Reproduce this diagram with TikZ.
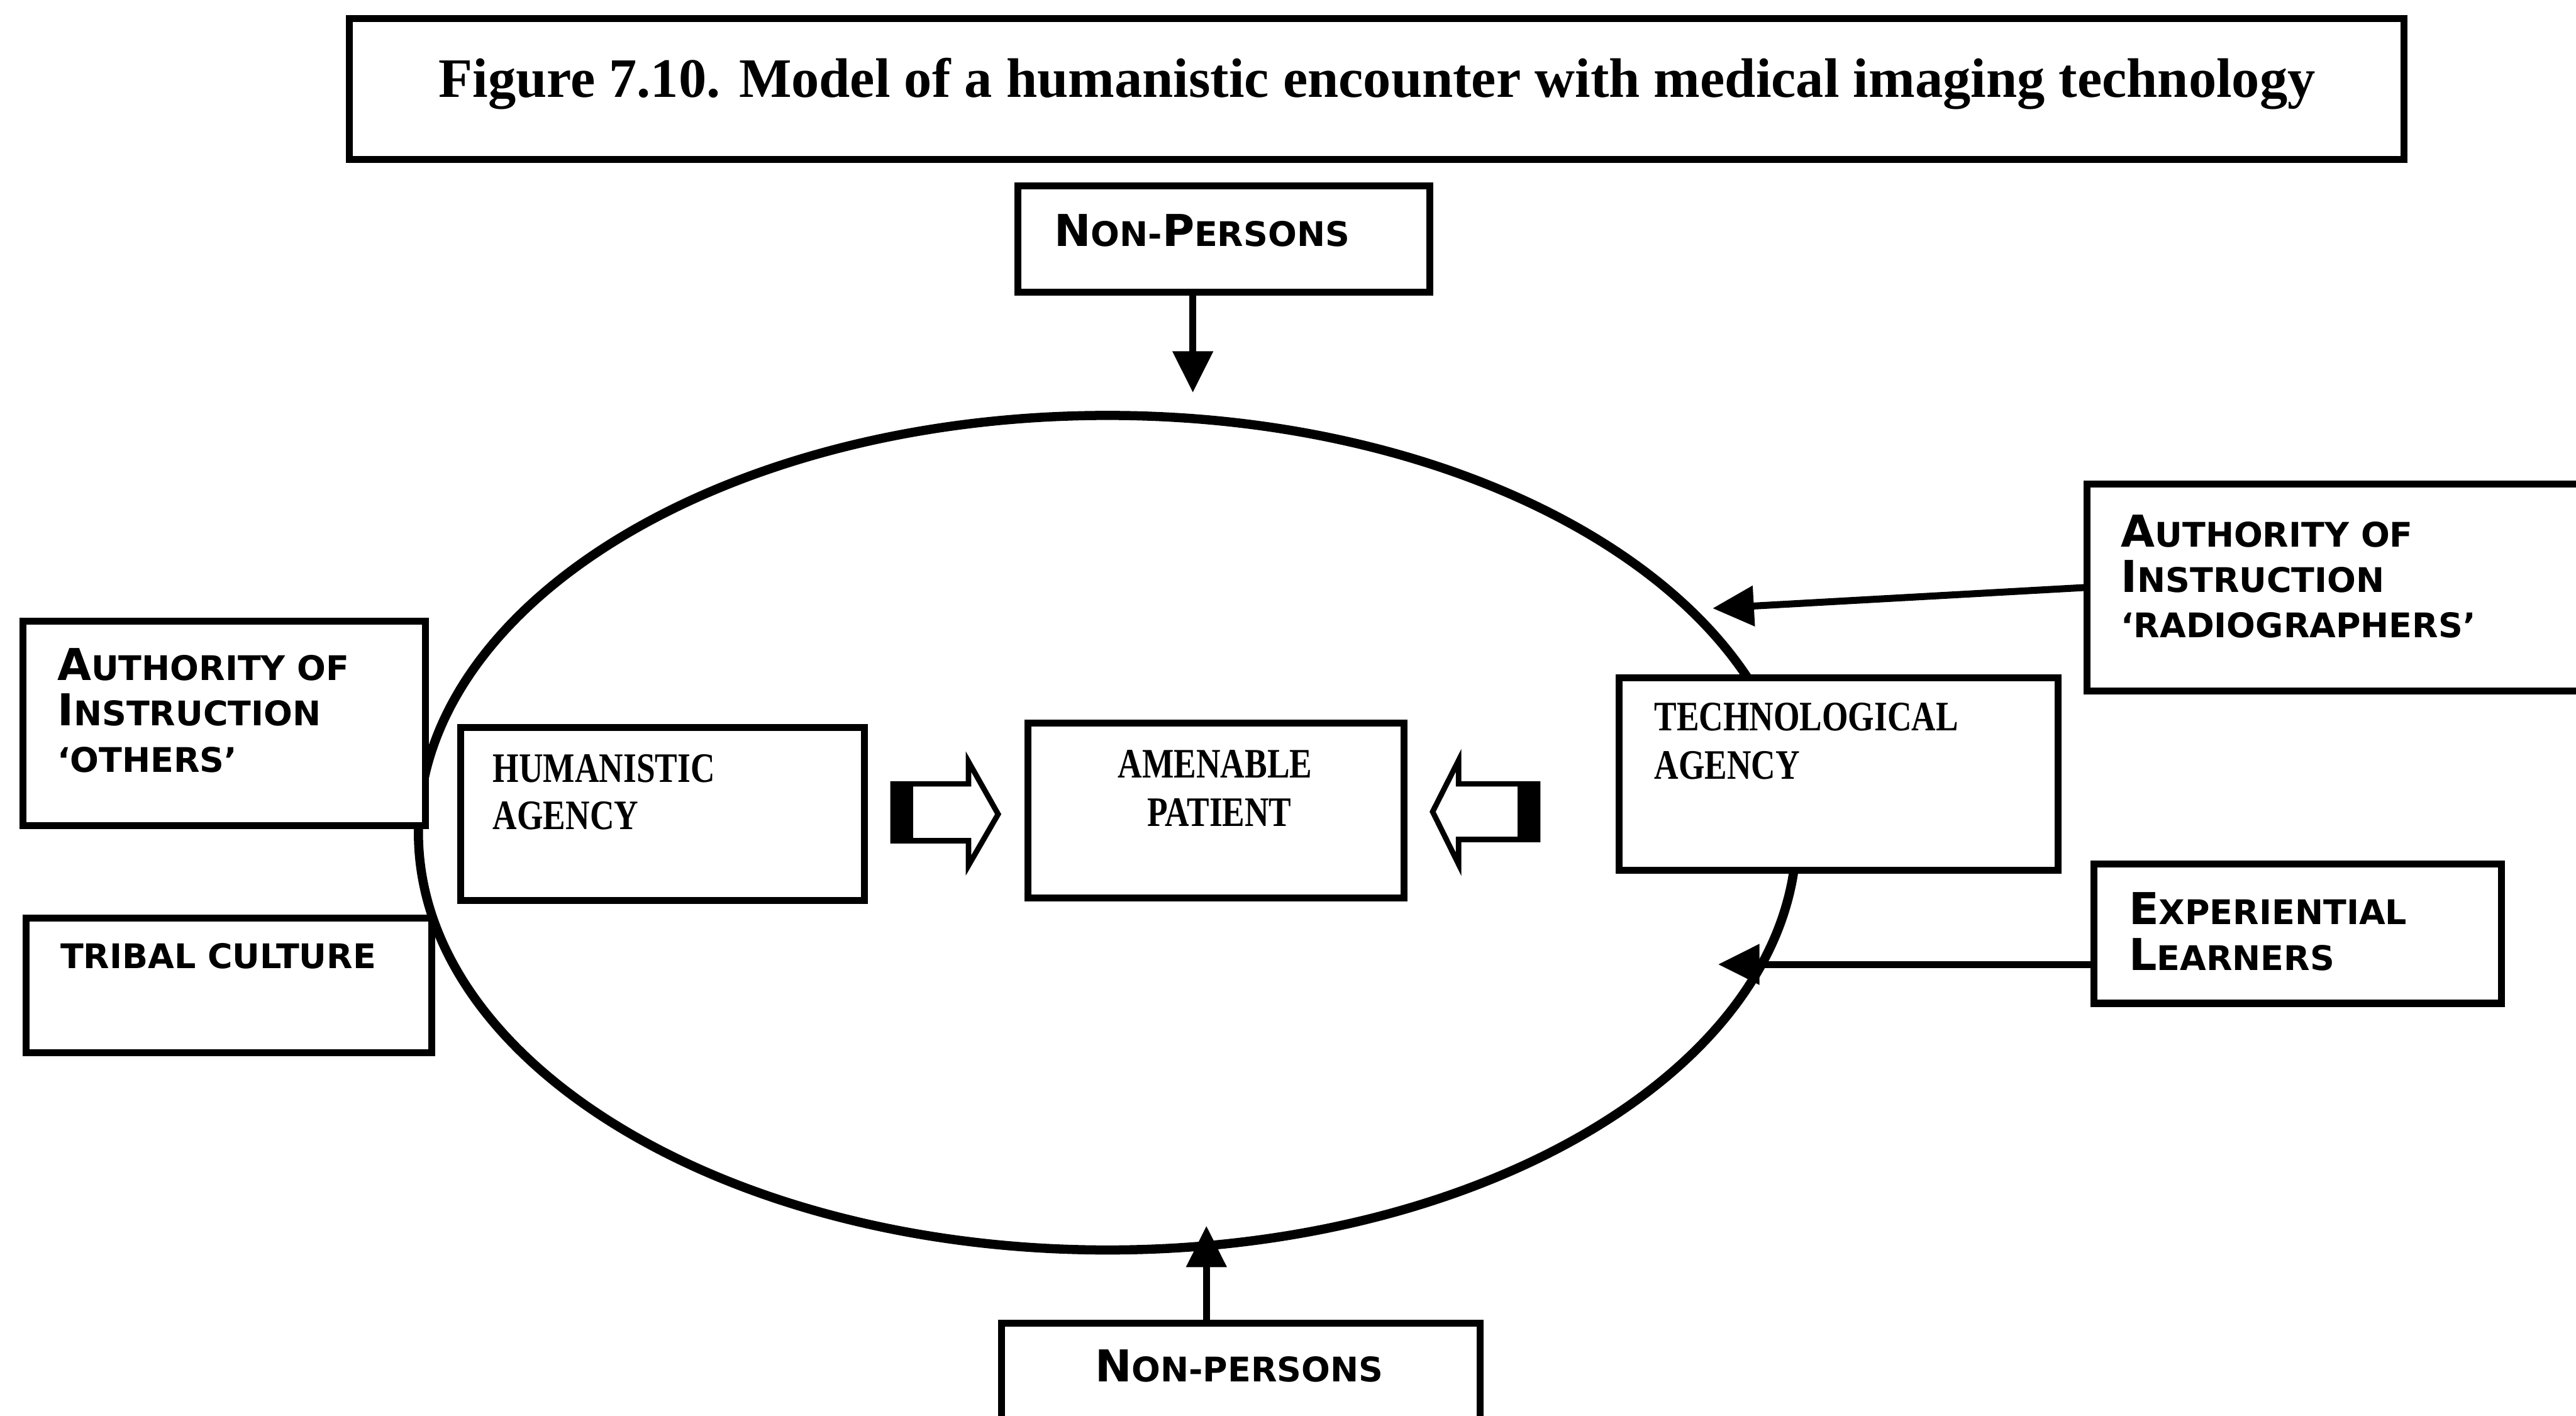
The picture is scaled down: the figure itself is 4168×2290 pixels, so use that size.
\documentclass[tikz,border=0pt]{standalone}
\usepackage{fontspec}
\setmainfont{Liberation Serif}
\newfontfamily\capsfont{DejaVu Sans}
\newfontfamily\agencyfont{Liberation Serif}[FakeStretch=0.8]
\usetikzlibrary{arrows.meta,fit}

% large and small capitals for the outer labels
\newcommand\capL[1]{{\fontsize{20.2}{24}\selectfont #1}}
\newcommand\capS[1]{{\fontsize{15.6}{19}\selectfont #1}}

\tikzset{
  box/.style={draw, line width=3.2pt, fill=white, inner sep=0pt},
  caplabel/.style={font=\capsfont\bfseries, anchor=base west, inner sep=0pt},
  agency/.style={font=\agencyfont\bfseries\fontsize{19.3}{23}\selectfont, anchor=base west, inner sep=0pt},
  arr/.style={line width=3.2pt, -{Triangle[length=19pt,width=18pt]}},
  blockarrow/.style={draw, line width=2.5pt, fill=white, line join=miter},
}

\begin{document}
\begin{tikzpicture}[x=0.01cm, y=-0.01cm]
\useasboundingbox (0,0) rectangle (4168,2290);
\clip (0,0) rectangle (4168,2290);

% the encounter
\coordinate (centre) at (1792,1347);
\draw[line width=4.2pt] (centre) ellipse [x radius=1115, y radius=675];

% title
\node[box, fit={(565,30) (3890,258)}] (titlebox) {};
\node[anchor=base, inner sep=0pt, font=\bfseries\fontsize{25.6}{30}\selectfont] (title) at (2228,157)
  {Figure 7.10. Model of a humanistic encounter with medical imaging technology};

% outer influences
\node[box, fit={(1647,301) (2313,473)}] (nptop) {};
\node[caplabel] (nptoptext) at (1705,398) {\capL{N}\capS{ON-}\capL{P}\capS{ERSONS}};

\node[box, fit={(37,1005) (688,1336)}] (authoth) {};
\node[caplabel] (authoth1) at (92,1101) {\capL{A}\capS{UTHORITY OF}};
\node[caplabel] (authoth2) at (92,1174) {\capL{I}\capS{NSTRUCTION}};
\node[caplabel] (authoth3) at (92,1249) {\capS{‘OTHERS’}};

\node[box, fit={(42,1485) (699,1703)}] (tribal) {};
\node[caplabel] (tribaltext) at (97,1567) {\capS{TRIBAL CULTURE}};

\node[box, fit={(3377,783) (4260,1118)}] (authrad) {};
\node[caplabel] (authrad1) at (3431,885) {\capL{A}\capS{UTHORITY OF}};
\node[caplabel] (authrad2) at (3431,958) {\capL{I}\capS{NSTRUCTION}};
\node[caplabel] (authrad3) at (3431,1031) {\capS{‘RADIOGRAPHERS’}};

\node[box, fit={(3388,1398) (4047,1623)}] (exp) {};
\node[caplabel] (exp1) at (3444,1495) {\capL{E}\capS{XPERIENTIAL}};
\node[caplabel] (exp2) at (3444,1570) {\capL{L}\capS{EARNERS}};

\node[box, fit={(1620,2140) (2395,2400)}] (npbot) {};
\node[caplabel] (npbottext) at (1771,2235) {\capL{N}\capS{ON-PERSONS}};

% agencies and patient
\node[box, fit={(745,1177) (1399,1457)}] (hum) {};
\node[agency] (hum1) at (797,1265) {HUMANISTIC};
\node[agency] (hum2) at (797,1342) {AGENCY};

\node[box, fit={(1663,1170) (2272,1453)}] (pat) {};
\node[agency, anchor=base] (pat1) at (1966,1258) {AMENABLE};
\node[agency, anchor=base] (pat2) at (1973,1337) {PATIENT};

\node[box, fit={(2620,1096) (3330,1408)}] (tech) {};
\node[agency] (tech1) at (2676,1182) {TECHNOLOGICAL};
\node[agency] (tech2) at (2676,1260) {AGENCY};

% block arrows towards the patient
\draw[blockarrow] (1445,1268) -- (1567,1268) -- (1567,1232) -- (1615,1317)
  -- (1567,1400) -- (1567,1360) -- (1445,1360) -- cycle;
\fill (1443,1266) rectangle (1478,1362);
\draw[blockarrow] (2488,1268) -- (2360,1268) -- (2360,1230) -- (2318,1313)
  -- (2360,1398) -- (2360,1358) -- (2488,1358) -- cycle;
\fill (2455,1266) rectangle (2490,1360);

% influence arrows
\coordinate (tiptop) at (1930,635);
\coordinate (tipbot) at (1952,1983);
\coordinate (tiprad) at (2771,984);
\coordinate (tipexp) at (2780,1560);
\draw[arr] (nptop.south -| tiptop) -- (tiptop);
\draw[arr] (npbot.north -| tipbot) -- (tipbot);
\draw[arr] (authrad.west) -- (tiprad);
\draw[arr] (exp.west |- tipexp) -- (tipexp);
\end{tikzpicture}
\end{document}
